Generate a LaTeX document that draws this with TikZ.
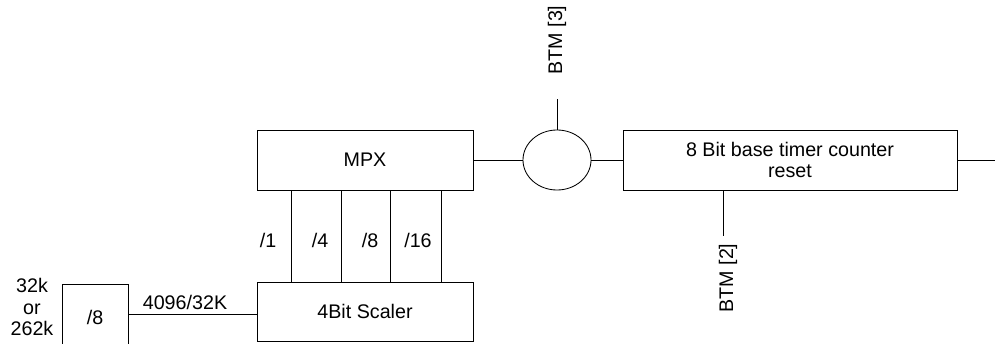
\documentclass[tikz,border=0pt]{standalone}
\usepackage{fontspec}
\setmainfont{Liberation Sans}
\usetikzlibrary{positioning, shapes.geometric}
\tikzset{
	blockbox/.style={draw, line width=0.6pt, inner sep=0pt, align=center}
}
\tikzset{
	wiretext/.style={font=\fontsize{14}{15.5}\selectfont, inner sep=0pt, align=center}
}
\tikzset{
	wire/.style={line width=0.6pt}
}

\begin{document}
\begin{tikzpicture}[x=0.025cm, y=0.025cm, font=\fontsize{14}{15.2}\selectfont]
      \useasboundingbox (0,0) rectangle (995,343);
      % blocks
      \node[blockbox, minimum width=5.4cm, minimum height=1.5cm] (mpx) at (365,183) {MPX};
      \node[blockbox, minimum width=5.4cm, minimum height=1.475cm] (scaler) at (365,31.5) {4Bit Scaler};
      \node[blockbox, ellipse, minimum width=1.7cm, minimum height=1.5cm] (sel) at (557,183) {};
      \node[blockbox, minimum width=8.35cm, minimum height=1.5cm] (cnt) at (790,183) {8 Bit base timer counter\\reset};
      \node[blockbox, minimum width=1.65cm, minimum height=1.65cm] (div) at (95,26) {/8};
      % free ends
      \coordinate (btm3) at (557,244);
      \coordinate (btm2) at (723,107);
      \coordinate (out) at (995,183);
      % wires
      \draw[wire] (mpx) -- (sel);
      \draw[wire] (sel) -- (cnt);
      \draw[wire] (cnt) -- (out);
      \draw[wire] (sel) -- (btm3);
      \draw[wire] (cnt.south -| btm2) -- (btm2);
      \draw[wire] (div.east |- scaler.west) ++(0,-2.5) coordinate (dv) -- (scaler.west |- dv);
      \foreach \x in {291,341,390,441}
        \draw[wire] (\x,0 |- mpx.south) -- (\x,0 |- scaler.north);
      % labels
      \node[wiretext] (l1) at (268,103) {/1};
      \node[wiretext] (l4) at (320,103) {/4};
      \node[wiretext] (l8) at (370,103) {/8};
      \node[wiretext] (l16) at (418,103) {/16};
      \node[wiretext] (clk) at (185,41) {4096/32K};
      \node[wiretext] (src) at (32,36) {32k\\or\\262k};
      \node[wiretext, rotate=90] (t3) at (557,303) {BTM [3]};
      \node[wiretext, rotate=90] (t2) at (728,65) {BTM [2]};
    \end{tikzpicture}
\end{document}
